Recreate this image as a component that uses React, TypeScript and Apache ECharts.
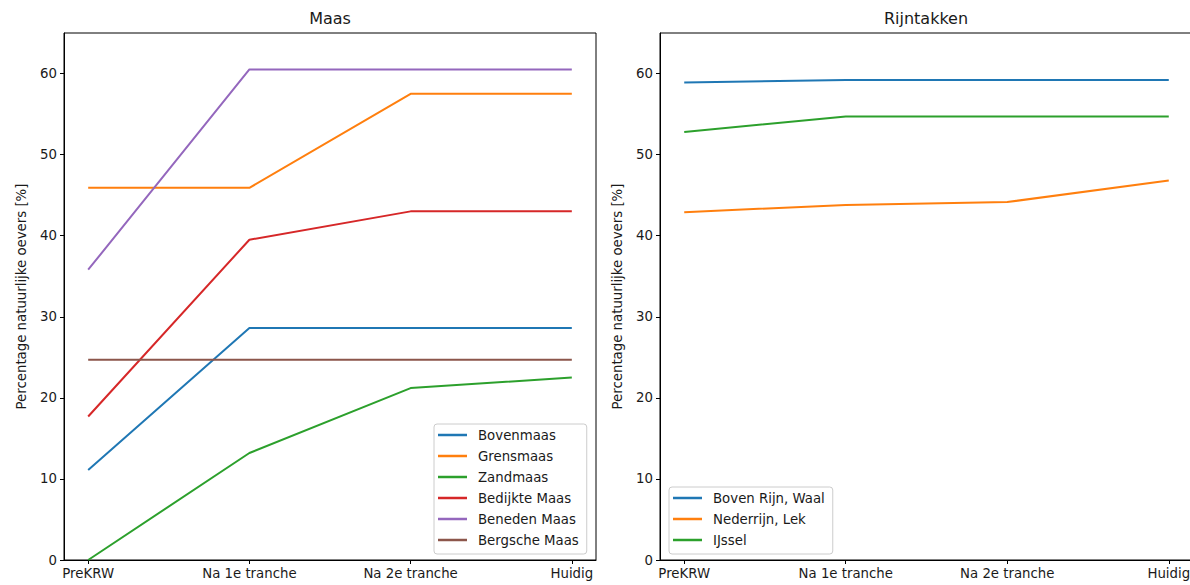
import React, { useEffect, useRef } from "react";
import * as echarts from "echarts";

const categories = ["PreKRW", "Na 1e tranche", "Na 2e tranche", "Huidig"];
const yTicks = [0, 10, 20, 30, 40, 50, 60];
const xTickIdx = [0, 1, 2, 3];

const maasNames = ["Bovenmaas", "Grensmaas", "Zandmaas", "Bedijkte Maas", "Beneden Maas", "Bergsche Maas"];
const bovenmaas = [11.1, 28.6, 28.6, 28.6];
const grensmaas = [45.9, 45.9, 57.5, 57.5];
const zandmaas = [0, 13.2, 21.2, 22.5];
const bedijkteMaas = [17.7, 39.5, 43.0, 43.0];
const benedenMaas = [35.8, 60.5, 60.5, 60.5];
const bergscheMaas = [24.7, 24.7, 24.7, 24.7];
const maasValues = [bovenmaas, grensmaas, zandmaas, bedijkteMaas, benedenMaas, bergscheMaas];

const rijnNames = ["Boven Rijn, Waal", "Nederrijn, Lek", "IJssel"];
const bovenRijnWaal = [58.9, 59.2, 59.2, 59.2];
const nederrijnLek = [42.9, 43.8, 44.15, 46.8];
const ijssel = [52.8, 54.7, 54.7, 54.7];
const rijnValues = [bovenRijnWaal, nederrijnLek, ijssel];

const colors = ["#1f77b4", "#ff7f0e", "#2ca02c", "#d62728", "#9467bd", "#8c564b"];

const FONT = "DejaVu Sans";
const TXT = "#1a1a1a";
const FS = 13.3;

function makeX(gridIndex: number) {
  return {
    type: "value",
    gridIndex,
    min: -0.15,
    max: 3.15,
    splitLine: { show: false },
    axisLine: { show: true, onZero: false, lineStyle: { color: "#000", width: 1 } },
    axisTick: { show: true, length: 4, customValues: xTickIdx, lineStyle: { color: "#000" } },
    axisLabel: {
      customValues: xTickIdx,
      margin: 7,
      color: TXT,
      fontFamily: FONT,
      fontSize: FS,
      formatter: (v: number) => categories[Math.round(v)] ?? "",
    },
  };
}

function makeY(gridIndex: number) {
  return {
    type: "value",
    gridIndex,
    min: 0,
    max: 65,
    name: "Percentage natuurlijke oevers [%]",
    nameLocation: "middle",
    nameGap: 36,
    nameTextStyle: { color: TXT, fontFamily: FONT, fontSize: FS },
    splitLine: { show: false },
    axisLine: { show: true, onZero: false, lineStyle: { color: "#000", width: 1 } },
    axisTick: { show: true, length: 4, customValues: yTicks, lineStyle: { color: "#000" } },
    axisLabel: { customValues: yTicks, margin: 7, color: TXT, fontFamily: FONT, fontSize: FS },
  };
}

function legendCfg(names: string[], left: number, top: number) {
  return {
    data: names,
    orient: "vertical",
    left,
    top,
    align: "left",
    icon: "rect",
    itemWidth: 29,
    itemHeight: 2.5,
    itemGap: 7,
    padding: [4, 8, 7, 4],
    borderColor: "#cccccc",
    borderWidth: 1,
    borderRadius: 3,
    backgroundColor: "rgba(255,255,255,0.8)",
    selectedMode: false,
    textStyle: { color: TXT, fontFamily: FONT, fontSize: FS, lineHeight: 14, padding: [0, 0, 0, 6] },
  };
}

export default function App() {
  const ref = useRef<HTMLDivElement>(null);
  useEffect(() => {
    document.body.style.margin = "0";
    if (!ref.current) return;
    const chart = echarts.init(ref.current, undefined, { renderer: "svg" });
    const series: any[] = [];
    maasNames.forEach((n, i) => {
      series.push({
        type: "line",
        name: n,
        xAxisIndex: 0,
        yAxisIndex: 0,
        data: maasValues[i].map((v, k) => [k, v]),
        showSymbol: false,
        symbol: "none",
        lineStyle: { width: 2, color: colors[i] },
        itemStyle: { color: colors[i] },
      });
    });
    rijnNames.forEach((n, i) => {
      series.push({
        type: "line",
        name: n,
        xAxisIndex: 1,
        yAxisIndex: 1,
        data: rijnValues[i].map((v, k) => [k, v]),
        showSymbol: false,
        symbol: "none",
        lineStyle: { width: 2, color: colors[i] },
        itemStyle: { color: colors[i] },
      });
    });
    chart.setOption({
      animation: false,
      backgroundColor: "#fff",
      textStyle: { fontFamily: FONT },
      title: [
        { text: "Maas", left: 330, top: 8, textAlign: "center", padding: 0, textStyle: { fontSize: 16, fontWeight: "normal", color: TXT, fontFamily: FONT, lineHeight: 20 } },
        { text: "Rijntakken", left: 926, top: 8, textAlign: "center", padding: 0, textStyle: { fontSize: 16, fontWeight: "normal", color: TXT, fontFamily: FONT, lineHeight: 20 } },
      ],
      grid: [
        { left: 64, top: 33, width: 532, height: 527, show: true, borderColor: "#000", borderWidth: 1, backgroundColor: "transparent" },
        { left: 660, top: 33, width: 533, height: 527, show: true, borderColor: "#000", borderWidth: 1, backgroundColor: "transparent" },
      ],
      xAxis: [makeX(0), makeX(1)],
      yAxis: [makeY(0), makeY(1)],
      legend: [legendCfg(maasNames, 434, 424), legendCfg(rijnNames, 669, 487)],
      series,
    });
    return () => chart.dispose();
  }, []);
  return (
    <div style={{ width: 1190, height: 585, overflow: "hidden" }}>
      <div ref={ref} style={{ width: 1200, height: 585 }} />
    </div>
  );
}
